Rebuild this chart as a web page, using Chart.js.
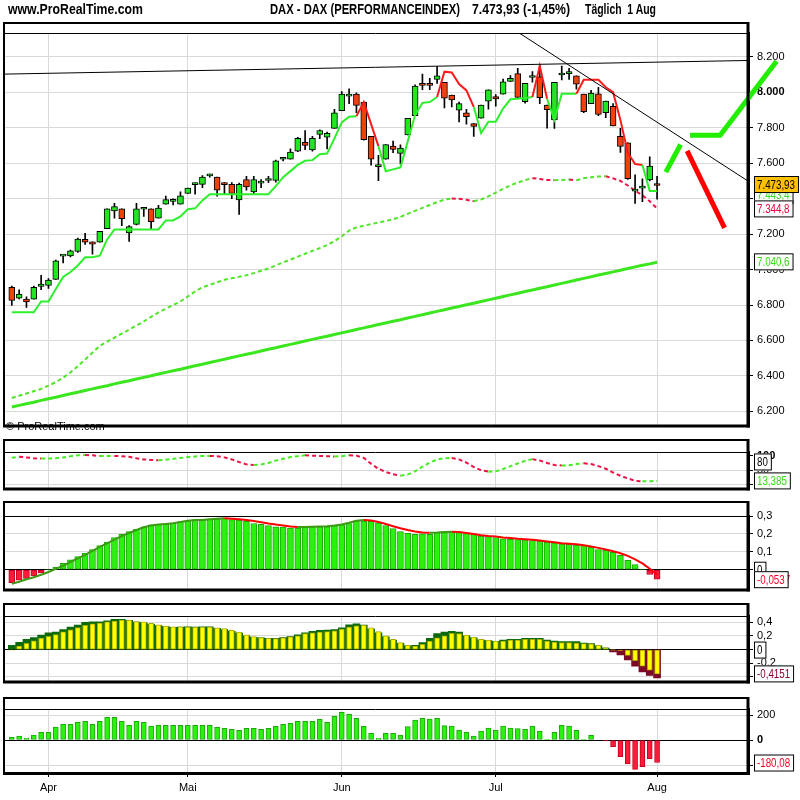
<!DOCTYPE html>
<html>
<head>
<meta charset="utf-8">
<script src="https://cdn.jsdelivr.net/npm/chart.js@4.4.1/dist/chart.umd.min.js"></script>
<style>
  body { margin: 0; background: #fff; width: 800px; height: 800px; position: relative; overflow: hidden; }
  canvas { position: absolute; left: 0; }
  .title { position: absolute; top: 1px; z-index: 5; white-space: pre; color: #000; display: inline-block;
           transform-origin: 0 50%; font: bold 14px "Liberation Sans", Arial, sans-serif; }
</style>
</head>
<body>
<span class="title" style="left:8px" data-w="135">www.ProRealTime.com</span>
<span class="title" style="left:270px" data-w="190">DAX - DAX (PERFORMANCEINDEX)</span>
<span class="title" style="left:472px" data-w="98">7.473,93 (-1,45%)</span>
<span class="title" style="left:585px" data-w="71">Täglich  1 Aug</span>
<canvas id="main" width="800" height="436" style="top:0"></canvas>
<canvas id="stoch" width="800" height="60" style="top:439px"></canvas>
<canvas id="hist" width="800" height="99" style="top:501px"></canvas>
<canvas id="macd" width="800" height="89" style="top:603px"></canvas>
<canvas id="mom" width="800" height="103" style="top:697px"></canvas>
<script>
const FONT = '"Liberation Sans", Arial, sans-serif';

// months on the x axis (trading day index of first day)
const monthLabels = ['Apr', 'Mai', 'Jun', 'Jul', 'Aug'];
const monthStart = [5, 24, 45, 66, 88];

// daily candles, 26 Mar .. 1 Aug
const open = [6900,6839,6833,6833,6905,6910,6944,7076,7077,7102, 7170,7156,7154,7231,7331,7342,7207,7255,7340,7342,
  7290,7368,7384,7368,7429,7479,7480,7528,7521,7481, 7480,7392,7508,7438,7487,7502,7502,7622,7622,7668,
  7718,7674,7762,7746,7796,7896,7978,7989,7945,7751, 7580,7622,7696,7655,7759,7868,8050,8050,8072,8056,
  7984,7899,7884,7823,7853,7950,7976,7989,8061,8105, 7947,8083,8087,7928,7844,8097,8105,8093,7989,7936,
  7991,7884,7921,7751,7715,7442,7459,7506,7476];
const high = [6907,6886,6846,6907,6968,6949,7053,7079,7110,7178, 7204,7156,7215,7342,7373,7342,7248,7373,7351,7342,
  7362,7414,7399,7438,7460,7488,7530,7539,7521,7491, 7491,7488,7525,7525,7508,7526,7617,7632,7681,7746,
  7783,7751,7788,7775,7903,8004,8019,7997,7945,7751, 7644,7705,7725,7703,7853,8041,8102,8078,8144,8056,
  7984,7945,7903,7823,7927,8013,7987,8074,8094,8135, 8050,8117,8152,7928,8056,8148,8135,8093,7989,8010,
  8028,7950,7936,7796,7715,7534,7512,7635,7526];
const low = [6798,6835,6787,6833,6887,6894,6944,7038,7071,7097, 7141,7086,7154,7231,7290,7248,7158,7252,7300,7230,
  7290,7368,7364,7368,7429,7425,7462,7521,7414,7425, 7399,7311,7447,7429,7462,7490,7493,7613,7622,7665,
  7676,7668,7738,7680,7796,7896,7936,7884,7729,7589, 7501,7622,7659,7595,7759,7868,8015,8015,8050,7912,
  7917,7832,7820,7751,7853,7904,7921,7989,8061,7971, 7938,8056,7936,7797,7796,8070,8072,8017,7884,7936,
  7868,7857,7810,7661,7508,7373,7383,7500,7397];
const close = [6826,6861,6817,6899,6918,6940,7049,7078,7106,7172, 7154,7143,7215,7342,7355,7287,7242,7342,7343,7270,
  7347,7394,7387,7416,7460,7481,7521,7530,7447,7479, 7429,7480,7466,7508,7489,7504,7613,7624,7663,7740,
  7700,7740,7784,7768,7884,7990,7980,7925,7733,7622, 7591,7705,7678,7685,7853,8035,8039,8039,8092,7967,
  7956,7936,7862,7807,7927,8013,7962,8058,8078,7971, 8050,8085,7969,7901,8056,8099,8107,8045,7890,7995,
  7875,7950,7810,7694,7512,7453,7461,7583,7473.93];

// trailing stop (green below price, red above)
const stopLine = [6759,6759,6759,6759,6820,6820,6890,6958,6986,7023, 7069,7069,7078,7170,7226,7226,7226,7226,7226,7226,
  7226,7277,7277,7300,7340,7345,7390,7425,7425,7425, 7425,7425,7425,7425,7425,7425,7470,7521,7555,7590,
  7613,7617,7650,7654,7740,7830,7862,7865,7945,7820, 7696,7554,7565,7576,7724,7871,7940,7945,7973,8116,
  8111,8046,8010,7917,7770,7834,7834,7908,7960,7963, 7967,7973,8148,7963,7844,7991,7991,7991,8070,8070,
  8070,8028,8000,7844,7659,7595,7589,7443.4,7443.4];

// dashed moving average
const maMid = [6276,6288,6301,6314,6327,6345,6365,6390,6420,6455, 6493,6531,6569,6593,6616,6639,6661,6684,6707,6733,
  6758,6779,6800,6820,6848,6876,6900,6914,6928,6942, 6951,6959,6968,6980,6993,7006,7023,7040,7056,7073,
  7089,7105,7121,7138,7160,7188,7220,7238,7247,7256, 7265,7274,7284,7297,7314,7331,7348,7364,7380,7394,
  7401,7399,7393,7385,7395,7413,7434,7455,7475,7490, 7504,7515,7511,7505,7504,7505,7508,7503,7515,7520,
  7525,7526,7514,7500,7474,7445,7418,7385,7344.8];

// thick long moving average
const maLong = [6225,6234,6243,6252,6262,6271,6280,6290,6299,6308, 6318,6327,6336,6345,6355,6364,6373,6383,6392,6401,
  6411,6420,6429,6438,6448,6457,6466,6476,6485,6494, 6504,6513,6522,6531,6541,6550,6559,6569,6578,6587,
  6597,6606,6615,6624,6634,6643,6652,6662,6671,6680, 6690,6699,6708,6717,6727,6736,6745,6755,6764,6773,
  6783,6792,6801,6810,6820,6829,6838,6848,6857,6866, 6876,6885,6894,6903,6913,6922,6931,6941,6950,6959,
  6969,6978,6987,6996,7006,7015,7024,7032,7040.6];

// hand drawn trend lines and arrows (day index, price)
const resistX = [-1.2, 100.4], resistY = [8102, 8179];
const trendX = [69.2, 100.4], trendY = [8334, 7499];
const arrowUpX = [89.2, 91.2], arrowUpY = [7549, 7705];
const arrowBigX = [92.5, 96.6, 104.3], arrowBigY = [7757, 7757, 8175];
const arrowDownX = [92.1, 97.2], arrowDownY = [7669, 7235];
const priceTicks = [6200, 6400, 6600, 6800, 7000, 7200, 7400, 7600, 7800, 8000, 8200];

// stochastic
const stoch = [93,96,94,91,90,90,91,94,98,101, 102,101,99,99,99,98,96,91,87,85,
  84,86,89,92,95,97,99,99,98,94, 87,78,70,68,70,75,83,89,95,98,
  101,100,99,98,97,98,101,100,92,72, 55,44,36,31,35,46,62,76,87,91,
  92,87,76,61,50,45,46,54,64,73, 82,88,83,75,68,66,67,71,74,71,
  64,55,42,31,22,13.5,12,12.2,13.385];
const stochTicks = [0, 20, 50, 80, 100];

// histogram with its line
const histBars = [-0.073,-0.058,-0.048,-0.035,-0.018,0.003,0.013,0.035,0.055,0.073, 0.093,0.113,0.135,0.155,0.18,0.197,0.213,0.225,0.24,0.25,
  0.253,0.257,0.26,0.267,0.273,0.278,0.278,0.283,0.283,0.287, 0.28,0.277,0.27,0.258,0.253,0.247,0.24,0.238,0.233,0.233,
  0.237,0.24,0.24,0.24,0.245,0.25,0.257,0.273,0.272,0.27, 0.262,0.247,0.23,0.213,0.203,0.198,0.2,0.198,0.208,0.207,
  0.21,0.207,0.202,0.198,0.188,0.185,0.18,0.173,0.17,0.168, 0.167,0.163,0.16,0.155,0.15,0.145,0.142,0.137,0.135,0.125,
  0.113,0.11,0.097,0.08,0.053,0.028,0.004,-0.027,-0.053];
const histLine = [-0.078,-0.067,-0.053,-0.042,-0.028,-0.013,0.005,0.022,0.043,0.063, 0.083,0.105,0.127,0.147,0.168,0.188,0.205,0.222,0.237,0.247,
  0.252,0.255,0.26,0.267,0.273,0.277,0.278,0.282,0.285,0.287, 0.285,0.282,0.277,0.272,0.265,0.258,0.252,0.247,0.242,0.238,
  0.238,0.24,0.242,0.243,0.247,0.253,0.262,0.273,0.277,0.275, 0.267,0.255,0.243,0.232,0.222,0.213,0.208,0.207,0.208,0.21,
  0.212,0.21,0.205,0.2,0.193,0.188,0.185,0.18,0.177,0.173, 0.17,0.167,0.163,0.158,0.153,0.148,0.145,0.142,0.137,0.13,
  0.122,0.113,0.103,0.092,0.077,0.058,0.035,0.005,-0.0277];
const histTicks = [0, 0.1, 0.2, 0.3];

// double histogram (dark behind, yellow in front)
const macdDark = [0.06,0.107,0.15,0.176,0.21,0.245,0.254,0.293,0.327,0.357, 0.396,0.404,0.404,0.421,0.443,0.443,0.425,0.4,0.39,0.37,
  0.35,0.335,0.325,0.33,0.331,0.33,0.331,0.331,0.31,0.29, 0.265,0.24,0.2,0.18,0.17,0.163,0.163,0.176,0.189,0.215,
  0.245,0.267,0.28,0.284,0.292,0.318,0.361,0.374,0.357,0.3, 0.245,0.185,0.135,0.09,0.055,0.061,0.103,0.163,0.232,0.254,
  0.267,0.254,0.2,0.17,0.14,0.13,0.12,0.138,0.15,0.15, 0.163,0.163,0.163,0.138,0.125,0.116,0.116,0.116,0.095,0.086,
  0.055,0.02,-0.034,-0.077,-0.151,-0.241,-0.327,-0.379,-0.4151];
const macdYellow = [-0.01,0.052,0.09,0.129,0.168,0.194,0.219,0.258,0.288,0.322, 0.353,0.374,0.387,0.404,0.417,0.43,0.43,0.409,0.404,0.383,
  0.361,0.344,0.331,0.331,0.327,0.323,0.327,0.327,0.318,0.305, 0.279,0.254,0.215,0.189,0.176,0.163,0.159,0.172,0.185,0.202,
  0.232,0.245,0.254,0.262,0.275,0.3,0.327,0.348,0.353,0.318, 0.262,0.202,0.15,0.103,0.061,0.052,0.077,0.125,0.172,0.202,
  0.237,0.232,0.211,0.181,0.15,0.138,0.125,0.125,0.138,0.138, 0.15,0.15,0.15,0.125,0.108,0.103,0.103,0.095,0.086,0.082,
  0.061,0.03,-0.005,-0.013,-0.086,-0.163,-0.241,-0.301,-0.357];
const macdTicks = [-0.4, -0.2, 0, 0.2, 0.4];

// momentum
const momentum = [24,32,16,40,61,61,104,125,125,141, 149,125,149,181,181,149,117,149,141,112,
  117,117,117,117,117,117,117,117,101,93, 85,77,93,93,85,93,109,125,133,149,
  149,149,165,141,189,221,205,173,109,53, 13,53,53,40,107,160,173,168,173,115,
  112,80,61,32,72,96,80,112,96,91, 85,112,72,5,61,117,112,77,5,37,
  0,-8,-53,-133,-192,-235,-213,-149,-180.08];
const momTicks = [-200, 0, 200];

const last = arr => arr[arr.length - 1];
const xy = arr => arr.map((v, i) => ({ x: i, y: v }));
const pairs = (xs, ys) => xs.map((x, i) => ({ x, y: ys[i] }));
const floating = (a, b) => a.map((v, i) => ({ x: i, y: [v, b[i]] }));
const slopeColor = (arr, up, down) => c => arr[c.p1DataIndex] >= arr[c.p0DataIndex] ? up : down;

function fmtDe(v, d) {
  const s = Math.abs(v).toFixed(d).split('.');
  s[0] = s[0].replace(/\B(?=(\d{3})+(?!\d))/g, '.');
  return (v < 0 ? '-' : '') + s.join(',');
}

// squeeze the title pieces to the narrow widths of the original
document.querySelectorAll('.title').forEach(el => {
  const k = Number(el.dataset.w) / el.getBoundingClientRect().width;
  el.style.transform = 'scaleX(' + k + ')';
});

// value label on the right axis, narrow lettering
function drawBox(ctx, x, y, b) {
  const sx = 0.75;
  ctx.font = '13px ' + FONT;
  const w = ctx.measureText(b.text).width * sx + 6;
  if (!b.plain) {
    ctx.fillStyle = b.bg || '#fff';
    ctx.fillRect(x, y - 8, w, 17);
    ctx.strokeStyle = '#000';
    ctx.lineWidth = 1;
    ctx.strokeRect(x + 0.5, y - 7.5, w, 16);
  }
  ctx.save();
  ctx.translate(x + 3, y + 1);
  ctx.scale(sx, 1);
  ctx.fillStyle = b.color;
  ctx.textAlign = 'left';
  ctx.textBaseline = 'middle';
  ctx.fillText(b.text, 0, 0);
  ctx.restore();
}

// frame, header strip and value boxes of each panel
const panelPlugin = {
  id: 'panel',
  afterDraw(chart, args, opts) {
    const { ctx, chartArea: a } = chart;
    const top = a.top - opts.header;
    const line = (x1, y1, x2, y2, w) => {
      ctx.lineWidth = w; ctx.beginPath(); ctx.moveTo(x1, y1); ctx.lineTo(x2, y2); ctx.stroke();
    };
    ctx.save();
    ctx.strokeStyle = '#000';
    line(a.left, top + 1, a.right, top + 1, 2);
    line(a.left, a.top + 0.5, a.right, a.top + 0.5, 1);
    line(a.left + 1, top, a.left + 1, a.bottom, 2);
    line(a.left, a.bottom + 0.5, a.right + 2, a.bottom + 0.5, 3);
    line(a.right, top, a.right, a.bottom + 2, 3);
    (opts.texts || []).forEach(t => {
      ctx.font = t.font; ctx.fillStyle = '#000'; ctx.textAlign = 'left'; ctx.textBaseline = 'middle';
      ctx.fillText(t.text, t.x, t.y);
    });
    const ys = chart.scales.y;
    (opts.boxes || []).forEach(b => {
      let y = ys.getPixelForValue(b.value) + (b.dy || 0);
      y = Math.min(Math.max(y, a.top + 8), a.bottom - 8);
      drawBox(ctx, a.right + 6, y, b);
    });
    ctx.restore();
  }
};

function xScale(showLabels) {
  return {
    type: 'linear', min: -1.2, max: 100.4, offset: false,
    afterBuildTicks: s => { s.ticks = monthStart.map(v => ({ value: v })); },
    afterFit: s => { s.height = showLabels ? 27 : 0; },
    grid: { color: '#d9d9d9', offset: false, drawTicks: showLabels, tickLength: 4, tickColor: '#000' },
    border: { display: false },
    ticks: { display: showLabels, autoSkip: false, maxRotation: 0, padding: 4, color: '#000',
             font: { family: FONT, size: 11 }, callback: (v, i) => monthLabels[i] }
  };
}

function yScale(min, max, ticks, label, gridColor, boldValue) {
  return {
    position: 'right', min, max,
    afterBuildTicks: s => { s.ticks = ticks.map(v => ({ value: v })); },
    afterFit: s => { s.width = 52; },
    grid: { color: c => gridColor(c.tick.value), tickColor: '#000', tickLength: 5 },
    border: { display: true, color: '#000', width: 3 },
    ticks: { padding: 4, color: '#000', callback: label,
             font: c => ({ family: FONT, size: 11, weight: c.tick && c.tick.value === boldValue ? 'bold' : 'normal' }) }
  };
}

function options(padTop, padBottom, showLabels, y, panel) {
  return {
    responsive: false, animation: false, devicePixelRatio: 1,
    layout: { padding: { left: 3, right: 0, top: padTop, bottom: padBottom } },
    plugins: { legend: { display: false }, tooltip: { enabled: false }, panel },
    scales: { x: xScale(showLabels), y }
  };
}

const GRAY = '#d9d9d9';
const lineBase = { type: 'line', pointRadius: 0, tension: 0 };

// main price panel
new Chart(document.getElementById('main'), {
  type: 'bar',
  data: {
    datasets: [
      { ...lineBase, data: xy(maLong), borderColor: '#3ce61e', borderWidth: 3, order: 9 },
      { ...lineBase, data: xy(maMid), borderWidth: 2, borderDash: [4, 3], order: 8,
        segment: { borderColor: slopeColor(maMid, '#4ee626', '#ee1144') } },
      { type: 'bar', data: floating(low, high), backgroundColor: '#000', barThickness: 1,
        grouped: false, order: 7 },
      { type: 'bar', data: floating(open, close), grouped: false, order: 6,
        backgroundColor: open.map((o, i) => close[i] >= o ? '#22e622' : '#f0400c'),
        borderColor: '#000', borderWidth: 1, borderSkipped: false, barThickness: 6, minBarLength: 2 },
      { ...lineBase, data: xy(stopLine), borderWidth: 2, order: 5,
        segment: { borderColor: c => stopLine[c.p1DataIndex] > close[c.p1DataIndex] ? '#ff1a1a' : '#2cf02c' } },
      { ...lineBase, data: pairs(resistX, resistY), borderColor: '#000', borderWidth: 1, order: 4 },
      { ...lineBase, data: pairs(trendX, trendY), borderColor: '#000', borderWidth: 1, order: 4 },
      { ...lineBase, data: pairs(arrowUpX, arrowUpY), borderColor: '#22ee00', borderWidth: 5, clip: false, order: 1 },
      { ...lineBase, data: pairs(arrowBigX, arrowBigY), borderColor: '#22ee00', borderWidth: 5, clip: false, order: 1 },
      { ...lineBase, data: pairs(arrowDownX, arrowDownY), borderColor: '#ff0000', borderWidth: 5, clip: false, order: 1 }
    ]
  },
  options: options(33, 3, false,
    yScale(6121, 8334, priceTicks, v => fmtDe(v, 0), () => GRAY, 8000),
    { header: 11,
      texts: [{ x: 6, y: 427, text: '© ProRealTime.com', font: '11px ' + FONT }],
      boxes: [
        { value: last(stopLine), dy: 4, text: fmtDe(last(stopLine), 1), color: '#33dd22' },
        { value: last(close), dy: -1.5, text: fmtDe(last(close), 2), color: '#000', bg: '#ffc000' },
        { value: last(maMid), text: fmtDe(last(maMid), 1), color: '#e8003a' },
        { value: last(maLong), dy: -1, text: fmtDe(last(maLong), 1), color: '#33dd11' }
      ] }),
  plugins: [panelPlugin]
});

// stochastic panel
new Chart(document.getElementById('stoch'), {
  type: 'line',
  data: { datasets: [
    { ...lineBase, data: xy(stoch), borderWidth: 2, borderDash: [4, 3],
      segment: { borderColor: slopeColor(stoch, '#44ee22', '#ee1144') } }
  ] },
  options: options(13, 2, false,
    yScale(-12.5, 112.5, stochTicks, v => (v === 100 || v === 50) ? String(v) : '',
      v => v === 20 || v === 80 ? '#000' : (v === 100 ? 'rgba(0,0,0,0)' : GRAY), 100),
    { header: 13, boxes: [
      { value: 80, text: '80', color: '#000' },
      { value: last(stoch), text: fmtDe(last(stoch), 3), color: '#33dd11' }
    ] }),
  plugins: [panelPlugin]
});

// histogram panel
new Chart(document.getElementById('hist'), {
  type: 'bar',
  data: { datasets: [
    { type: 'bar', data: xy(histBars), grouped: false, barThickness: 6, borderWidth: 1, borderSkipped: false, order: 2,
      backgroundColor: histBars.map(v => v >= 0 ? '#2af20e' : '#ff1a3c'),
      borderColor: histBars.map(v => v >= 0 ? '#1ca80a' : '#c4001e') },
    { ...lineBase, data: xy(histLine), borderWidth: 2, order: 1,
      segment: { borderColor: slopeColor(histLine, '#3c9a14', '#ff0000') } }
  ] },
  options: options(15, 2, false,
    yScale(-0.11, 0.30, histTicks, v => v === 0 ? '' : fmtDe(v, 1),
      v => v === 0 || v === 0.3 ? '#000' : GRAY),
    { header: 15, boxes: [
      { value: last(histBars), text: fmtDe(last(histLine), 4), color: '#ff0022', plain: true },
      { value: 0, text: '0', color: '#000' },
      { value: last(histBars), text: fmtDe(last(histBars), 3), color: '#ff0022' }
    ] }),
  plugins: [panelPlugin]
});

// double histogram panel
new Chart(document.getElementById('macd'), {
  type: 'bar',
  data: { datasets: [
    { type: 'bar', data: xy(macdDark), grouped: false, barThickness: 7, order: 2,
      backgroundColor: macdDark.map(v => v >= 0 ? '#0b6a0b' : '#7a0a28') },
    { type: 'bar', data: xy(macdYellow), grouped: false, barThickness: 5, order: 1,
      backgroundColor: '#ffff00', borderColor: '#a8a800', borderWidth: 1, borderSkipped: false }
  ] },
  options: options(13, 2, false,
    yScale(-0.465, 0.49, macdTicks, v => (v === 0 || v === -0.4) ? '' : fmtDe(v, 1),
      v => v === 0 ? '#000' : GRAY),
    { header: 13, boxes: [
      { value: 0, text: '0', color: '#000' },
      { value: last(macdDark), text: fmtDe(last(macdDark), 4), color: '#8b0030' }
    ] }),
  plugins: [panelPlugin]
});

// momentum panel
new Chart(document.getElementById('mom'), {
  type: 'bar',
  data: { datasets: [
    { type: 'bar', data: xy(momentum), grouped: false, barThickness: 5, borderWidth: 1, borderSkipped: false,
      backgroundColor: momentum.map(v => v >= 0 ? '#2af20e' : '#ff1a3c'),
      borderColor: momentum.map(v => v >= 0 ? '#1ca80a' : '#c4001e') }
  ] },
  options: options(12, 0, true,
    yScale(-264, 248, momTicks, v => v === -200 ? '' : String(v), v => v === 0 ? '#000' : GRAY, 0),
    { header: 12, boxes: [
      { value: last(momentum), text: fmtDe(last(momentum), 2), color: '#ff0022' }
    ] }),
  plugins: [panelPlugin]
});
</script>
</body>
</html>
